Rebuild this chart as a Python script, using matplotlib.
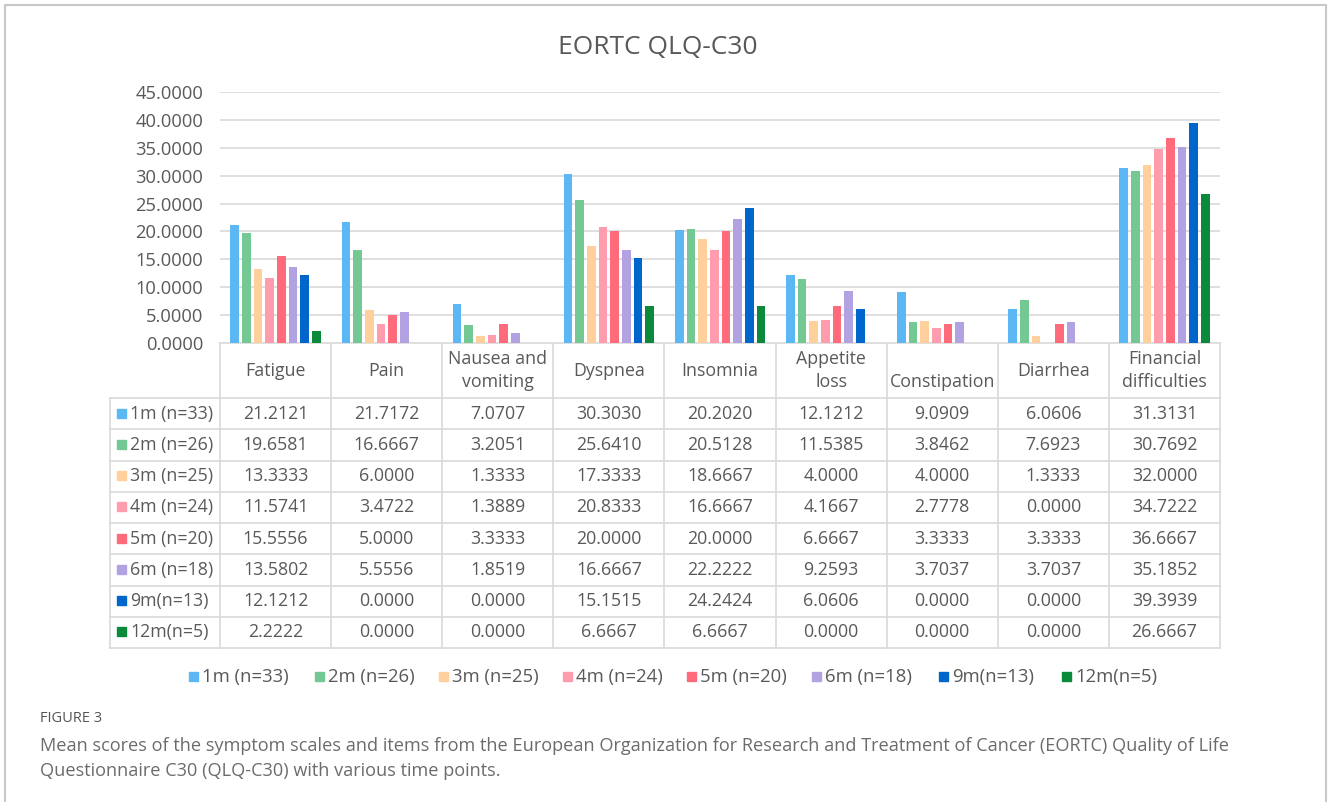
import numpy as np
import matplotlib.pyplot as plt
from matplotlib.patches import Rectangle

plt.rcParams['font.family'] = ['Open Sans', 'DejaVu Sans']

# EORTC QLQ-C30 symptom scale means by time point
categories = ["Fatigue", "Pain", "Nausea and\nvomiting", "Dyspnea", "Insomnia",
              "Appetite\nloss", "Constipation", "Diarrhea", "Financial\ndifficulties"]
series = ["1m (n=33)", "2m (n=26)", "3m (n=25)", "4m (n=24)", "5m (n=20)",
          "6m (n=18)", "9m(n=13)", "12m(n=5)"]
m1 = [21.2121, 21.7172, 7.0707, 30.3030, 20.2020, 12.1212, 9.0909, 6.0606, 31.3131]
m2 = [19.6581, 16.6667, 3.2051, 25.6410, 20.5128, 11.5385, 3.8462, 7.6923, 30.7692]
m3 = [13.3333, 6.0000, 1.3333, 17.3333, 18.6667, 4.0000, 4.0000, 1.3333, 32.0000]
m4 = [11.5741, 3.4722, 1.3889, 20.8333, 16.6667, 4.1667, 2.7778, 0.0000, 34.7222]
m5 = [15.5556, 5.0000, 3.3333, 20.0000, 20.0000, 6.6667, 3.3333, 3.3333, 36.6667]
m6 = [13.5802, 5.5556, 1.8519, 16.6667, 22.2222, 9.2593, 3.7037, 3.7037, 35.1852]
m9 = [12.1212, 0.0000, 0.0000, 15.1515, 24.2424, 6.0606, 0.0000, 0.0000, 39.3939]
m12 = [2.2222, 0.0000, 0.0000, 6.6667, 6.6667, 0.0000, 0.0000, 0.0000, 26.6667]
values = [m1, m2, m3, m4, m5, m6, m9, m12]
colors = ["#5cb8f4", "#74c893", "#ffcf9c", "#ff9daf", "#ff6b7b",
          "#b3a2e2", "#0066cc", "#0b8a3c"]

W, H = 1328, 802
fig = plt.figure(figsize=(W / 100, H / 100), dpi=100)

# pixel-space overlay for table, title, legend and caption
ov = fig.add_axes([0, 0, 1, 1])
ov.set_xlim(0, W)
ov.set_ylim(H, 0)
ov.axis('off')

# chart area
x0, x1, ytop, ybot = 220, 1220, 92, 343
ax = fig.add_axes([x0 / W, 1 - ybot / H, (x1 - x0) / W, (ybot - ytop) / H])
n = len(categories)
x = np.arange(n)
step, bw = 0.105, 0.078
for k, (vals, c) in enumerate(zip(values, colors)):
    ax.bar(x + (k - 3.5) * step, vals, width=bw, color=c, zorder=3)
ax.set_xlim(-0.5, n - 0.5)
ax.set_ylim(0, 45)
ax.set_yticks(np.arange(0, 46, 5))
ax.set_yticklabels([f"{t:.4f}" for t in np.arange(0, 46, 5)], fontsize=13.2, color="#595959")
ax.tick_params(axis='y', length=0, pad=12)
ax.set_xticks([])
ax.grid(axis='y', color="#d9d9d9", linewidth=1.2, zorder=0)
for s in ax.spines.values():
    s.set_visible(False)

# data table below the bars
cw = (x1 - x0) / n
lab_x0 = 110
hdr_bot = 398
rh = 31.25
line_kw = dict(color="#d9d9d9", linewidth=1.2)
tbl_bot = hdr_bot + rh * len(series)
ov.plot([x0, x1], [ybot, ybot], **line_kw)
for i in range(n + 1):
    ov.plot([x0 + i * cw] * 2, [ybot, tbl_bot], **line_kw)
ov.plot([lab_x0, lab_x0], [hdr_bot, tbl_bot], **line_kw)
for r in range(len(series) + 1):
    ov.plot([lab_x0, x1], [hdr_bot + r * rh] * 2, **line_kw)

txt_c = "#595959"
fs = 12.8
for i, cat in enumerate(categories):
    cy = 382 if cat == "Constipation" else (ybot + hdr_bot) / 2
    ov.text(x0 + (i + 0.5) * cw, cy, cat, ha='center', va='center',
            fontsize=fs, color=txt_c, linespacing=1.3)

for r, (name, vals, c) in enumerate(zip(series, values, colors)):
    cy = hdr_bot + (r + 0.5) * rh
    ov.add_patch(Rectangle((117, cy - 5), 9, 9, color=c))
    ov.text(130, cy, name, ha='left', va='center', fontsize=fs, color=txt_c)
    for i, v in enumerate(vals):
        ov.text(x0 + (i + 0.5) * cw, cy, f"{v:.4f}", ha='center', va='center',
                fontsize=fs, color=txt_c)

# legend row
leg_x = [189, 315, 439, 563, 687, 812, 939, 1062]
for lx, name, c in zip(leg_x, series, colors):
    ov.add_patch(Rectangle((lx, 672), 9, 9, color=c))
    ov.text(lx + 13, 677, name, ha='left', va='center', fontsize=13.3, color=txt_c)

ov.text(658, 47, "EORTC QLQ-C30", ha='center', va='center', fontsize=19, color=txt_c)

# caption
ov.text(40, 718, "FIGURE 3", ha='left', va='center', fontsize=10.5, color="#555555")
ov.text(40, 746, "Mean scores of the symptom scales and items from the European Organization "
        "for Research and Treatment of Cancer (EORTC) Quality of Life",
        ha='left', va='center', fontsize=13.1, color="#6b6b6b")
ov.text(40, 771, "Questionnaire C30 (QLQ-C30) with various time points.",
        ha='left', va='center', fontsize=13.1, color="#6b6b6b")

# frame around the figure panel
ov.plot([4.5, 4.5, 1326, 1326], [810, 5, 5, 810], color="#c8c8c8", linewidth=1.5)

fig.savefig("out.png", dpi=100)
